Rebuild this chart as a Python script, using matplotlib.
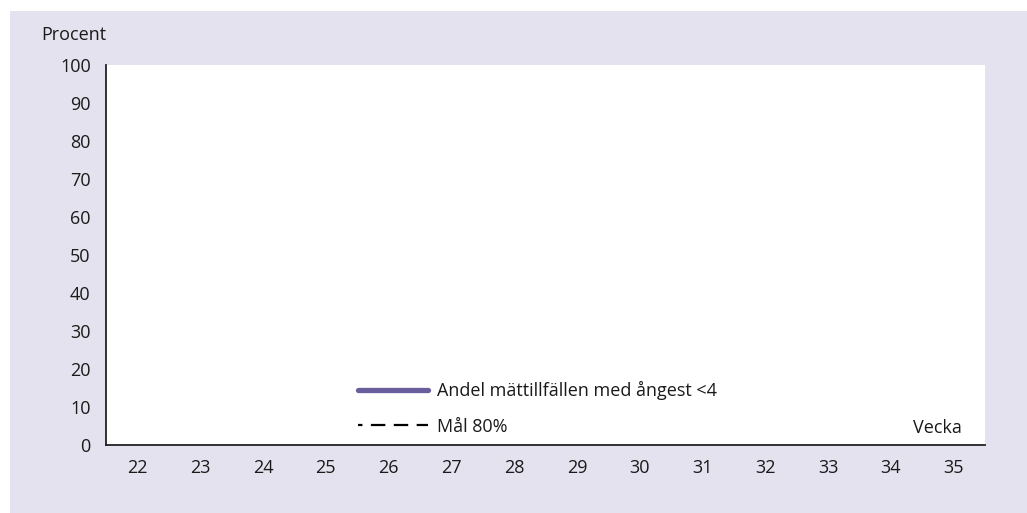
import numpy as np
import matplotlib
matplotlib.use("Agg")
import matplotlib.pyplot as plt
from matplotlib.patches import Rectangle

# weeks on the x axis (categories)
weeks = ["22", "23", "24", "25", "26", "27", "28", "29", "30", "31", "32", "33", "34", "35"]
# share of measurements with anxiety < 4 (no values reported in the chart)
andel = [np.nan, np.nan, np.nan, np.nan, np.nan, np.nan, np.nan,
         np.nan, np.nan, np.nan, np.nan, np.nan, np.nan, np.nan]
# goal line 80 % (not drawn in the chart)
mal = [np.nan, np.nan, np.nan, np.nan, np.nan, np.nan, np.nan,
       np.nan, np.nan, np.nan, np.nan, np.nan, np.nan, np.nan]
yticks = [0, 10, 20, 30, 40, 50, 60, 70, 80, 90, 100]

BG = "#e4e2ee"
PURPLE = "#6a5f9c"
TXT = "#1a1a1a"
FS = 13

plt.rcParams["font.family"] = ["Open Sans", "DejaVu Sans"]
plt.rcParams["font.size"] = FS

fig = plt.figure(figsize=(10.27, 5.13), dpi=100)
fig.patch.set_facecolor("white")
fig.patches.append(Rectangle((10 / 1027, 0), 1, 1 - 11 / 513, transform=fig.transFigure,
                             facecolor=BG, edgecolor="none", zorder=-10))

ax = fig.add_axes([106 / 1027, 1 - 445 / 513, 879 / 1027, 380 / 513])
ax.set_facecolor("white")
x = np.arange(len(weeks))
ax.plot(x, andel, color=PURPLE, lw=3.8, solid_capstyle="round",
        label="Andel mättillfällen med ångest <4")
ax.plot(x, mal, color="black", lw=1.6, linestyle=(4.5, (6.5, 3.8)),
        label="Mål 80%")

ax.set_xlim(-0.5, len(weeks) - 0.5)
ax.set_ylim(0, 100)
ax.set_xticks(x)
ax.set_xticklabels(weeks)
ax.set_yticks(yticks)
ax.tick_params(length=0, colors=TXT, labelsize=FS)
ax.tick_params(axis="y", pad=11)
ax.tick_params(axis="x", pad=10)
for s in ("top", "right"):
    ax.spines[s].set_visible(False)
for s in ("left", "bottom"):
    ax.spines[s].set_color("#222222")
    ax.spines[s].set_linewidth(1.3)

ax.text(0.974, 0.045, "Vecka", transform=ax.transAxes, ha="right", va="center",
        color=TXT, fontsize=FS)
fig.text(41 / 1027, 1 - 35 / 513, "Procent", ha="left", va="center",
         color=TXT, fontsize=FS)

ax.legend(loc="center left", bbox_to_anchor=((358 - 106) / 879, (445 - 408.5) / 380),
          frameon=False, handlelength=3.9, handletextpad=0.45, borderpad=0,
          borderaxespad=0, labelspacing=0.95, fontsize=FS, labelcolor=TXT)

fig.savefig("out.png", dpi=100, facecolor=fig.get_facecolor())
